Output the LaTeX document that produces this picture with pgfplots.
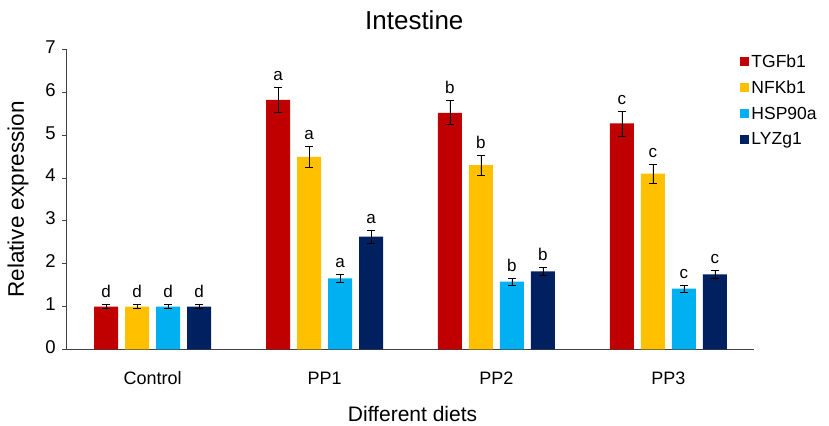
\documentclass[border=0pt]{standalone}
\usepackage{pgfplots}
\usepackage{pgfplotstable}
\pgfplotsset{compat=1.18}
\usepackage{fontspec}
\setmainfont{Liberation Sans}
\definecolor{cTGF}{HTML}{C00000}
\definecolor{cNFK}{HTML}{FFC000}
\definecolor{cHSP}{HTML}{00B0F0}
\definecolor{cLYZ}{HTML}{002060}
\pgfplotstableread{
x y e l
0 1.00 0.05 d
1 5.82 0.29 a
2 5.52 0.28 b
3 5.27 0.29 c
}\tgf
\pgfplotstableread{
x y e l
0 1.00 0.05 d
1 4.49 0.24 a
2 4.30 0.23 b
3 4.10 0.22 c
}\nfk
\pgfplotstableread{
x y e l
0 1.00 0.05 d
1 1.66 0.09 a
2 1.58 0.08 b
3 1.42 0.08 c
}\hsp
\pgfplotstableread{
x y e l
0 1.00 0.05 d
1 2.63 0.15 a
2 1.82 0.09 b
3 1.75 0.10 c
}\lyz
\begin{document}
\begin{tikzpicture}
\useasboundingbox (-66.7pt,-76.5pt) rectangle (762pt,349.3pt);
\begin{axis}[
  scale only axis,
  width=687.3pt, height=300pt,
  at={(0pt,0pt)}, anchor=south west,
  ybar=7pt, bar width=24pt,
  xmin=-0.5, xmax=3.5,
  ymin=0, ymax=7,
  xtick={0,1,2,3},
  xticklabels={Control,PP1,PP2,PP3},
  ytick={0,1,...,7},
  axis lines*=left,
  axis line style={black!75, line width=0.8pt},
  x axis line style={-}, y axis line style={-},
  xtick style={draw=none},
  ytick style={black!75, line width=0.8pt},
  tick align=outside, major tick length=4.5pt,
  /pgf/number format/assume math mode=true,
  yticklabel style={font=\fontsize{18.5}{20}\selectfont, anchor=east, xshift=-3pt},
  xticklabel style={font=\fontsize{18}{20}\selectfont, anchor=base, yshift=-31pt},
  typeset ticklabels with strut,
  title={Intestine},
  title style={font=\fontsize{26}{30}\selectfont, at={(axis description cs:0.5055,1)}, anchor=base, yshift=14.3pt},
  xlabel={Different diets},
  every axis x label/.style={at={(axis description cs:0.503,0)}, anchor=base, yshift=-72pt, font=\fontsize{21}{25}\selectfont},
  ylabel={Relative expression},
  every axis y label/.style={at={(axis description cs:-0.0709,0.5)}, rotate=90, anchor=center, font=\fontsize{22.5}{26}\selectfont},
  legend style={at={(axis description cs:1,1)}, anchor=north west, xshift=-14pt, yshift=-3pt,
    draw=none, fill=none, font=\fontsize{17.5}{21}\selectfont, row sep=8pt,
    cells={anchor=west}, inner sep=0pt},
  legend image code/.code={\fill[#1] (0pt,-4.5pt) rectangle (9pt,4.5pt);},
  point meta=explicit symbolic,
  nodes near coords,
  nodes near coords style={font=\fontsize{17}{20}\selectfont, anchor=base, yshift=7pt, shift={(axis direction cs:0,\myerr)}, black},
  visualization depends on={\thisrow{e}\as\myerr},
  every axis plot/.append style={draw=none},
  error bars/y dir=both, error bars/y explicit,
  error bars/error bar style={black, line width=0.6pt},
  error bars/error mark options={rotate=90, mark size=4pt, black, line width=0.6pt},
]
\addplot[fill=cTGF] table[x=x, y=y, y error=e, meta=l] {\tgf};
\addplot[fill=cNFK] table[x=x, y=y, y error=e, meta=l] {\nfk};
\addplot[fill=cHSP] table[x=x, y=y, y error=e, meta=l] {\hsp};
\addplot[fill=cLYZ] table[x=x, y=y, y error=e, meta=l] {\lyz};
\legend{TGFb1,NFKb1,HSP90a,LYZg1}
\end{axis}
\end{tikzpicture}
\end{document}
